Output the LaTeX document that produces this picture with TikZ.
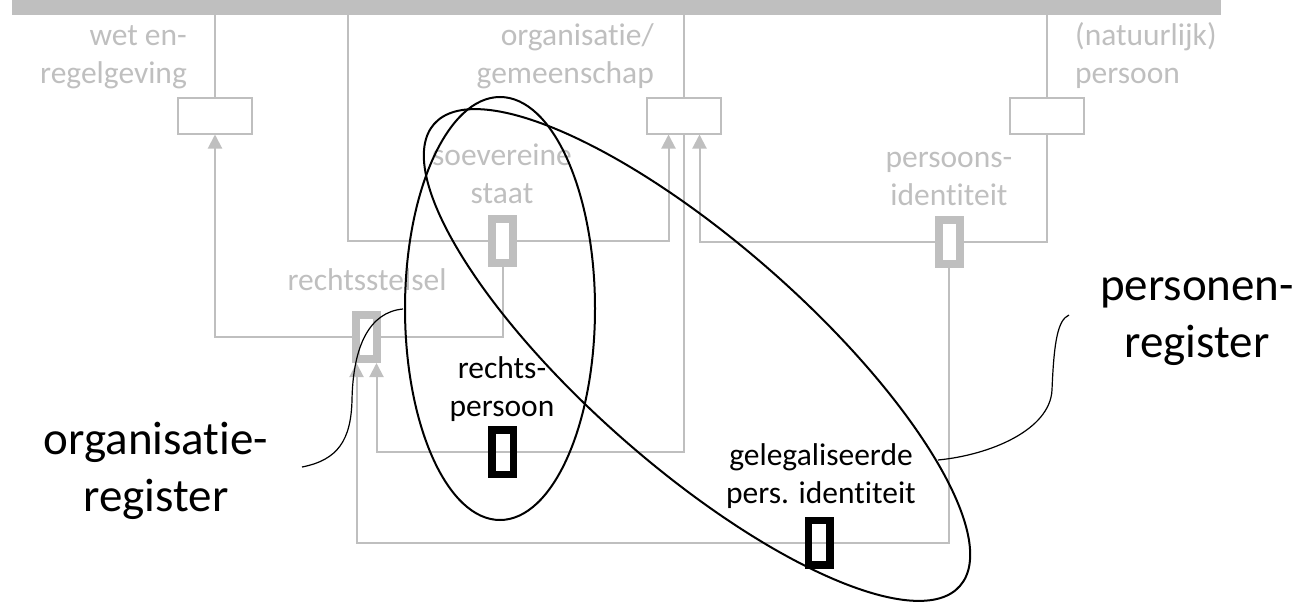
\documentclass[tikz,border=0pt]{standalone}
\usepackage{fontspec}
\setmainfont{Carlito}[Ligatures=NoCommon]
\usetikzlibrary{arrows.meta}
\definecolor{lg}{HTML}{BFBFBF}
\begin{document}
\begin{tikzpicture}[x=1pt,y=-1pt,
  gline/.style={draw=lg, line width=2pt},
  garrow/.style={gline, -{Triangle[width=14pt,length=14pt]}},
  bigbox/.style={draw=lg, line width=2pt, minimum width=74pt, minimum height=36pt, inner sep=0pt, fill=white},
  smallbox/.style={draw=lg, line width=8pt, minimum width=21pt, minimum height=44pt, inner sep=0pt, fill=white},
  blackbox/.style={draw=black, line width=7.5pt, minimum width=21.5pt, minimum height=44.5pt, inner sep=0pt},
  glabel/.style={text=lg, font=\fontsize{31.5}{37.5}\selectfont, inner sep=0pt},
  blabel/.style={text=black, font=\fontsize{31.5}{37.5}\selectfont, inner sep=0pt},
  biglabel/.style={text=black, font=\fontsize{47}{57}\selectfont, inner sep=0pt},
  ell/.style={draw=black, line width=2pt},
  callout/.style={draw=black, line width=1.2pt},
]
\useasboundingbox (0,0) rectangle (1307,613);
% top bar
\node[fill=lg, inner sep=0pt, minimum width=1209pt, minimum height=15pt, anchor=north west] (bar) at (12,0) {};
% big boxes
\node[bigbox] (wet) at (215,115.5) {};
\node[bigbox] (org) at (684,115.5) {};
\node[bigbox] (pers) at (1047,115.5) {};
% small gray boxes
\node[smallbox] (sov) at (502.5,240.5) {};
\node[smallbox] (rs) at (366.5,337) {};
\node[smallbox] (pid) at (949,241.5) {};
% coordinates
\coordinate (kA) at (348,240.5);
% lines from bar
\draw[gline] (bar.south -| wet.north) -- (wet.north);
\draw[gline] (bar.south -| org.north) -- (org.north);
\draw[gline] (bar.south -| pers.north) -- (pers.north);
\draw[gline] (kA |- bar.south) |- (sov.west);
\draw[garrow] (sov.east) -| ([xshift=-15.5pt]org.south);
\draw[gline] (sov.south) |- (rs.east);
\draw[garrow] (rs.west) -| (wet.south);
\draw[gline] (pers.south) |- (pid.east);
\draw[garrow] (pid.west) -| ([xshift=15.5pt]org.south);
% black boxes
\node[blackbox] (rp) at (502.5,452) {};
\node[blackbox] (gp) at (819,542.5) {};
\draw[gline] (org.south) |- (rp.center);
\draw[garrow] (rp.center) -| ([xshift=10pt]rs.south);
\draw[gline] (pid.south) |- (gp.center);
\draw[garrow] (gp.center) -| ([xshift=-10pt]rs.south);
\node[blackbox] at (rp.center) {};
\node[blackbox] at (gp.center) {};
% labels (base = baseline of last line)
\node[glabel, align=right, anchor=base east] (lwet) at (187,83) {wet en-\\regelgeving};
\node[glabel, align=right, anchor=base east] (lorg) at (654,83) {organisatie/\\gemeenschap};
\node[glabel, align=left, anchor=base west] (lpers) at (1075,83) {(natuurlijk)\\persoon};
\node[glabel, align=center, anchor=base] (lsov) at (502,203) {soevereine\\staat};
\node[glabel, align=center, anchor=base] (lpid) at (949,205) {persoons-\\identiteit};
\node[glabel, anchor=base] (lrs) at (367,290) {rechtsstelsel};
\node[blabel, align=center, anchor=base] (lrp) at (502,416) {rechts-\\persoon};
\node[blabel, align=center, anchor=base] (lgp) at (821,503) {gelegaliseerde\\pers. identiteit};
\node[biglabel, align=center, anchor=base] (lorgreg) at (156,511) {organisatie-\\register};
\node[biglabel, align=center, anchor=base] (lpersreg) at (1197,357) {personen-\\register};
% ellipses
\draw[ell] (500,308.5) ellipse [x radius=95, y radius=211.5];
\draw[ell, rotate around={-41.3:(697,355)}] (697,355) ellipse [x radius=350, y radius=112];
% callouts
\coordinate (c1s) at (302,467);
\coordinate (c1m) at (352,400);
\coordinate (c1e) at (403,309);
\draw[callout] (c1s) .. controls (338,460) and (351,440) .. (c1m) .. controls (353,345) and (370,312) .. (c1e);
\coordinate (c2s) at (938,460);
\coordinate (c2m) at (1052,390);
\coordinate (c2e) at (1069,315);
\draw[callout] (c2s) .. controls (990,455) and (1050,430) .. (c2m) .. controls (1054,340) and (1058,320) .. (c2e);
\end{tikzpicture}
\end{document}
